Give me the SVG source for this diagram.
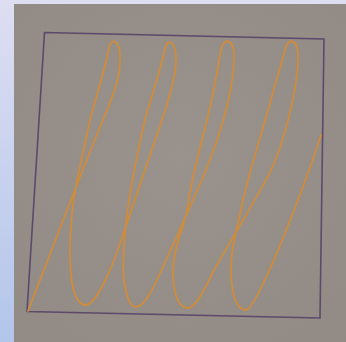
<svg xmlns="http://www.w3.org/2000/svg" width="346" height="342" viewBox="0 0 346 342">
  <defs>
    <linearGradient id="slide" x1="0" y1="0" x2="0" y2="1">
      <stop offset="0" stop-color="#dedef2"/>
      <stop offset="1" stop-color="#b2c6ea"/>
    </linearGradient>
    <radialGradient id="paper" cx="0.5" cy="0.45" r="0.75">
      <stop offset="0" stop-color="#9a938d"/>
      <stop offset="1" stop-color="#918a85"/>
    </radialGradient>
    <filter id="soft" x="-5%" y="-5%" width="110%" height="110%">
      <feGaussianBlur stdDeviation="0.35"/>
    </filter>
  </defs>
  <style>
    .frame { fill: none; stroke: #5b4a6c; stroke-width: 1.6; stroke-linejoin: miter; }
    .pen { fill: none; stroke: #d08c38; stroke-width: 1.8; stroke-linecap: round; stroke-linejoin: round; }
  </style>
  <rect x="0" y="0" width="346" height="342" fill="url(#slide)"/>
  <rect x="14" y="4" width="332" height="338" fill="url(#paper)"/>
  <g id="drawing" filter="url(#soft)">
    <polygon id="frame" class="frame" points="44.5,32.5 324,39 320,318 27,311.5"/>
    <path id="curve" class="pen" d="M28,311
      C47.5,261 84,165 103,120
      C113.5,95 121,75 120,58
      C120.5,41 111,36 109,48
      C105.6,68 95,100 90,120
      C84,150 76,180 73,205
      C69.5,235 69,262 72,282
      C75,300 80,305 86,305
      C93,305 104,285 113,263
      C120,245 150,155 162,120
      C166,108 177,75 176,58
      C175.5,42 168,37 165,48
      C162,66 150,100 145,120
      C140,140 130,190 127,215
      C124,240 122,262 124,280
      C127,298 130,307 136,307
      C145,307 155,285 163,267
      C172,247 198,190 208,165
      C218,140 233,95 234,60
      C235,40 225,35 221,50
      C218,68 212,100 207,120
      C202,140 191,180 188,205
      C186,225 173,245 173,272
      C173,295 179,308 188,308
      C196,308 205,288 213,272
      C222,255 262,190 272,168
      C282,146 297,95 298,60
      C299,40 289,35 285,50
      C281,65 274,88 270,103
      C262,133 248,175 242,205
      C237,230 230,250 231,275
      C232,298 238,310 246,310
      C256,310 300,200 321,135"/>
  </g>
</svg>
